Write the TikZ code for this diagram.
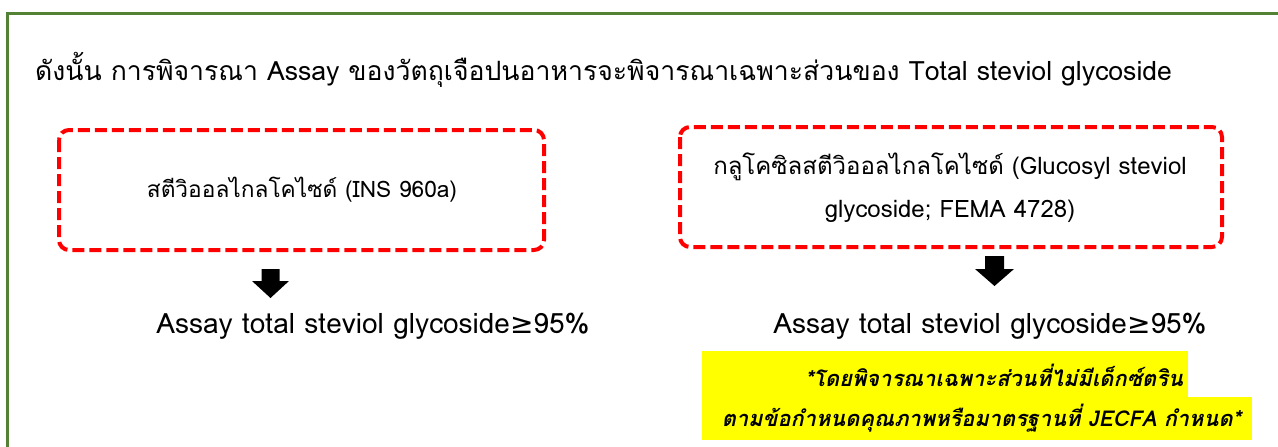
\documentclass[tikz,border=0pt]{standalone}
\usepackage{fontspec}
\newfontfamily\thai[Script=Thai]{Loma}
\newfontfamily\symf{DejaVu Sans}
\definecolor{framegreen}{RGB}{84,130,53}
\definecolor{hlyellow}{RGB}{255,255,0}
\begin{document}
\begin{tikzpicture}[x=1pt,y=-1pt,
  txt/.style={font=\thai\fontsize{22}{30}\selectfont, inner sep=0pt, align=center},
  note/.style={font=\thai\bfseries\itshape\fontsize{21.8}{26}\selectfont, inner sep=0pt},
  redbox/.style={draw=red, line width=4pt, dash pattern=on 12pt off 5pt, rounded corners=10pt},
  blockarrow/.style={fill=black},
  frameline/.style={draw=framegreen, line width=3pt}]
\useasboundingbox (0,0) rectangle (1278,447);
\fill[white] (0,0) rectangle (1278,447);
% frame
\draw[frameline] (7,447) -- (7,13.3) -- (1278,13.3);
% title
\node[txt, font=\thai\fontsize{26.6}{30}\selectfont, anchor=west] (title) at (35,70) {ดังนั้น การพิจารณา Assay ของวัตถุเจือปนอาหารจะพิจารณาเฉพาะส่วนของ Total steviol glycoside};
% boxes
\draw[redbox] (59,130) rectangle (544,250);
\draw[redbox] (680,127) rectangle (1222,247);
\node[txt, font=\thai\fontsize{22.7}{30}\selectfont] (lbox) at (302,190) {สตีวิออลไกลโคไซด์ (INS 960a)};
\node[txt, font=\thai\fontsize{24}{30}\selectfont] (rbox1) at (950,167) {กลูโคซิลสตีวิออลไกลโคไซด์ (Glucosyl steviol};
\node[txt, font=\thai\fontsize{24}{30}\selectfont] (rbox2) at (950,211) {glycoside; FEMA 4728)};
% arrows
\fill[blockarrow] (261.5,269) -- (279.5,269) -- (279.5,281) -- (289,281) -- (270.5,298) -- (252,281) -- (261.5,281) -- cycle;
\fill[blockarrow] (985,256) -- (1004,256) -- (1004,269) -- (1014,269) -- (994.5,286) -- (975,269) -- (985,269) -- cycle;
% assay texts
\node[txt, font=\thai\fontsize{28}{30}\selectfont] (la) at (373,326) {Assay total steviol glycoside{\symf ≥}95\%};
\node[txt, font=\thai\fontsize{28}{30}\selectfont] (ra) at (990,326) {Assay total steviol glycoside{\symf ≥}95\%};
% highlight
\fill[hlyellow] (702,351) rectangle (1188,397);
\fill[hlyellow] (702,397) rectangle (1252,440);
\node[note] (n1) at (994,375) {*โดยพิจารณาเฉพาะส่วนที่ไม่มีเด็กซ์ตริน};
\node[note] (n2) at (981.5,418) {ตามข้อกำหนดคุณภาพหรือมาตรฐานที่ JECFA กำหนด*};
\end{tikzpicture}
\end{document}
